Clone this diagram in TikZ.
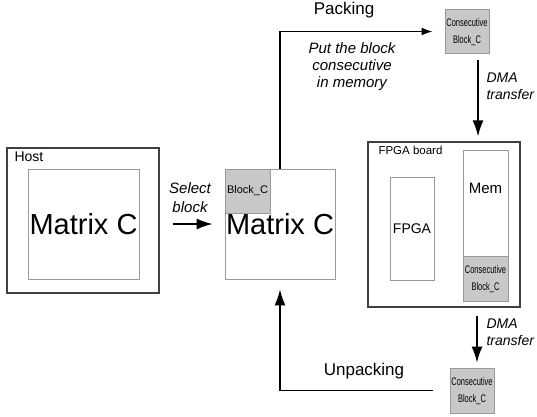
\documentclass[tikz,border=0pt]{standalone}
\usepackage{fontspec}
\setmainfont{Liberation Sans}
\usepackage{graphicx}
\usepackage{tikz}
\usetikzlibrary{arrows.meta}

\definecolor{blockgray}{HTML}{C8C8C8}
\definecolor{edgegray}{HTML}{9A9A9A}
\definecolor{outergray}{HTML}{404040}
\newcommand{\consblk}{\scalebox{0.68}[1]{\begin{tabular}{@{}c@{}}Consecutive\\Block\_C\end{tabular}}}

\begin{document}
\begin{tikzpicture}
[x=1pt,y=-1pt,>={Latex[length=16pt,width=11pt]},
  outer box/.style={draw=outergray,line width=1.2pt,inner sep=0pt},
  inner box/.style={draw=edgegray,fill=white,line width=0.8pt,inner sep=0pt},
  grey block/.style={draw=edgegray,fill=blockgray,line width=0.8pt,inner sep=0pt,
    minimum width=44pt,minimum height=44pt,font=\fontsize{11}{17}\selectfont},
  big text/.style={font=\fontsize{29}{29}\selectfont},
  flow/.style={->,line width=1.6pt},
  note/.style={font=\fontsize{15}{17}\selectfont\itshape,align=center},
  dma note/.style={font=\fontsize{14}{17}\selectfont\itshape,align=left,anchor=west}]
  \useasboundingbox (0,0) rectangle (537,416);

  % host side
  \node[outer box,minimum width=152pt,minimum height=145pt] (host) at (83,220.5) {};
  \node[anchor=west,font=\fontsize{14}{14}\selectfont] (hostlbl) at (11,156.5) {Host};
  \node[inner box,big text,minimum width=111pt,minimum height=110pt] (hostmat) at (83.5,224) {Matrix C};

  \node[note,font=\fontsize{15}{19}\selectfont\itshape] (sellbl) at (190,198) {Select\\block};

  % matrix with the selected block
  \node[inner box,big text,minimum width=110pt,minimum height=110pt] (mat) at (280,224) {Matrix C};
  \node[grey block,minimum width=45pt] (blk) at (247.5,191) {Block\_C};

  % packing
  \node[font=\fontsize{17}{17}\selectfont] (packlbl) at (344,10) {Packing};
  \node[note] (putlbl) at (352,67) {Put the block\\consecutive\\in memory};
  \node[grey block] (packblk) at (467,31.5) {\consblk};
  \node[dma note] (dmatop) at (483,86.5) {DMA\\transfer};

  % board
  \node[outer box,minimum width=152pt,minimum height=165pt] (board) at (444,224.5) {};
  \node[anchor=west,font=\fontsize{11.5}{12}\selectfont] (boardlbl) at (375,150) {FPGA board};
  \node[inner box,minimum width=44pt,minimum height=103pt,font=\fontsize{14}{14}\selectfont] (fpga) at (412,228.5) {FPGA};
  \node[inner box,minimum width=45pt,minimum height=106pt] (mem) at (485.5,203) {};
  \node[font=\fontsize{15}{15}\selectfont] (memlbl) at (485.5,188) {Mem};
  \node[grey block,minimum width=45pt,minimum height=45pt] (brdblk) at (485.5,278.5) {\consblk};

  % unpacking
  \node[dma note] (dmabot) at (483,332) {DMA\\transfer};
  \node[grey block,minimum height=45pt] (unpblk) at (472,390.5) {\consblk};
  \node[font=\fontsize{17}{17}\selectfont] (unplbl) at (364,371) {Unpacking};

  \draw[flow,shorten <=13pt,shorten >=12pt] (mat.west -| host.east) -- (mat.west);
  \draw[line width=1.6pt,-{Latex[length=11pt,width=8pt]},shorten >=12pt] (mat.north) |- (packblk.west);
  \draw[flow,shorten <=6.5pt,shorten >=5pt] ([xshift=11pt]packblk.south) -- ([xshift=11pt]packblk.south |- board.north);
  \draw[flow,shorten <=8pt,shorten >=5pt] ([xshift=5pt]unpblk.north |- board.south) -- ([xshift=5pt]unpblk.north);
  \draw[flow,shorten <=17pt,shorten >=10pt] (unpblk.west) -| (mat.south);

\end{tikzpicture}
\end{document}
